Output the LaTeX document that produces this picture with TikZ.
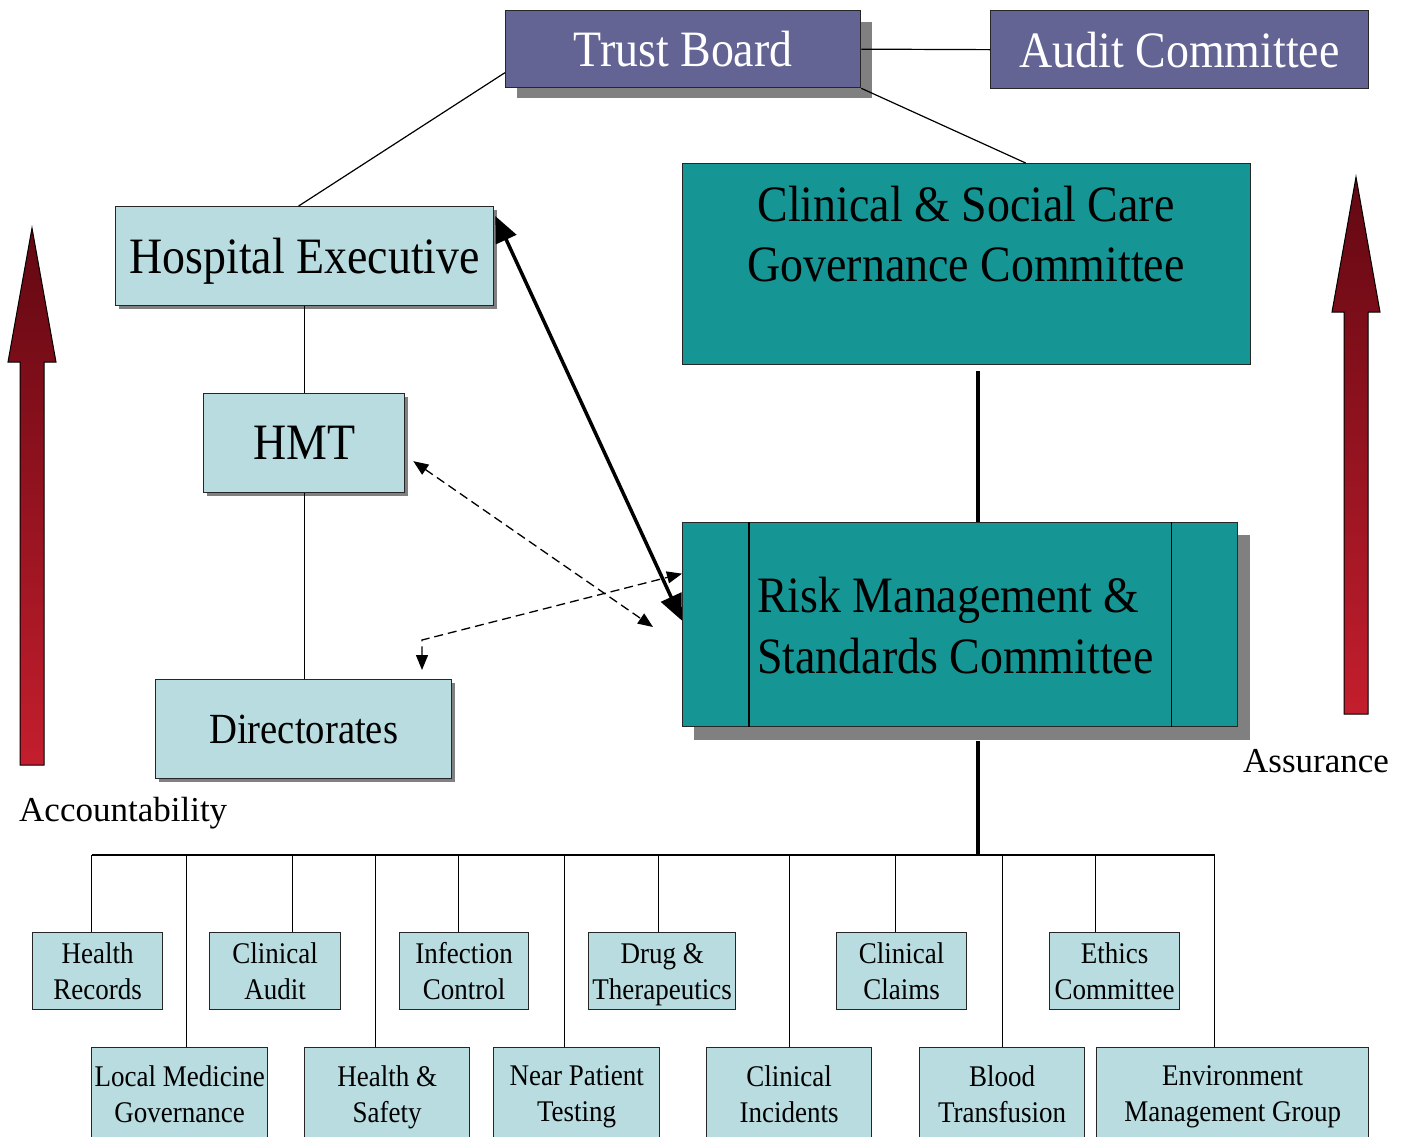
\documentclass[tikz,border=0pt]{standalone}
\usepackage{fontspec}
\setmainfont{Liberation Serif}[FakeStretch=0.9]
\newfontfamily\labelfont{Liberation Serif}
\usetikzlibrary{arrows.meta,calc}
\definecolor{boardblue}{RGB}{99,99,148}
\definecolor{paleblue}{RGB}{184,220,224}
\definecolor{tealfill}{RGB}{21,149,147}
\definecolor{shadowgray}{RGB}{128,128,128}
\definecolor{arrowdark}{RGB}{98,8,18}
\definecolor{arrowlight}{RGB}{196,30,45}
\begin{document}
\begin{tikzpicture}[x=1pt,y=-1pt,
 box/.style={draw=black!85, line width=1.3pt, inner sep=0pt, anchor=north west, align=center, text depth=0pt},
 board/.style={box, fill=boardblue, text=white, font=\fontsize{51}{60}\selectfont},
 pale/.style={box, fill=paleblue, font=\fontsize{51}{60}\selectfont},
 tealbox/.style={box, fill=tealfill},
 small/.style={box, fill=paleblue, font=\fontsize{30}{36}\selectfont},
 shadowfill/.style={fill=shadowgray, draw=none},
 link/.style={line width=1.2pt},
 spine/.style={line width=3.5pt},
 bigarrow/.style={line width=3.5pt, {Triangle[length=26pt,width=22pt]}-{Triangle[length=26pt,width=22pt]}},
 dasharrow/.style={line width=1.3pt, dash pattern=on 9pt off 5pt, {Triangle[length=15pt,width=12pt]}-{Triangle[length=15pt,width=12pt]}},
 blockarrow/.style={top color=arrowdark, bottom color=arrowlight, draw=black, line width=1pt},
 caption/.style={font=\labelfont\fontsize{35}{40}\selectfont, inner sep=0pt}
]
\clip (0,0) rectangle (1409,1136);
\fill[white] (0,0) rectangle (1409,1136);

% shadows
\fill[shadowfill] (517,22) rectangle (872,98);
\fill[shadowfill] (119,210) rectangle (497,309);
\fill[shadowfill] (207,397) rectangle (408,496);
\fill[shadowfill] (159,683) rectangle (455,782);
\fill[shadowfill] (694,535) rectangle (1250,740);

% main boxes
\node[board, minimum width=355pt, minimum height=77pt] (tb) at (505,10) {Trust Board};
\node[board, minimum width=378pt, minimum height=78pt] (ac) at (990,10) {Audit Committee};
\node[pale, minimum width=378pt, minimum height=99pt] (he) at (115,206) {Hospital Executive};
\node[pale, minimum width=201pt, minimum height=99pt] (hmt) at (203,393) {HMT};
\node[pale, font=\fontsize{43}{50}\selectfont, minimum width=296pt, minimum height=99pt] (dir) at (155,679) {Directorates};
\node[tealbox, minimum width=568pt, minimum height=201pt] (csc) at (682,163) {};
\node[font=\fontsize{51}{60}\selectfont, align=center, inner sep=0pt] (csct) at (966,234) {Clinical \& Social Care\\Governance Committee};
\node[tealbox, minimum width=555pt, minimum height=204pt] (rm) at (682,522) {};
\draw[link] ($(rm.north west)+(67,0)$) -- ($(rm.south west)+(67,0)$);
\draw[link] ($(rm.north east)+(-67,0)$) -- ($(rm.south east)+(-67,0)$);
\node[font=\fontsize{51}{61}\selectfont, align=left, anchor=west, inner sep=0pt] (rmt) at (757,626) {Risk Management \&\\Standards Committee};

% captions
\node[caption, anchor=base west] (acc) at (19,821) {Accountability};
\node[caption, anchor=base west] (asr) at (1243,772) {Assurance};

% block arrows
\shadedraw[blockarrow] (20,765) -- (44,765) -- (44,362) -- (56,362) -- (32,228) -- (8,362) -- (20,362) -- cycle;
\shadedraw[blockarrow] (1344,714) -- (1368,714) -- (1368,312) -- (1380,312) -- (1356,177) -- (1332,312) -- (1344,312) -- cycle;

% sub committees, top row
\node[small, minimum width=130pt, minimum height=77pt] (hr) at (32,932) {Health\\Records};
\node[small, minimum width=131pt, minimum height=77pt] (ca) at (209,932) {Clinical\\Audit};
\node[small, minimum width=129pt, minimum height=77pt] (ic) at (399,932) {Infection\\Control};
\node[small, minimum width=147pt, minimum height=77pt] (dt) at (588,932) {Drug \&\\Therapeutics};
\node[small, minimum width=130pt, minimum height=77pt] (cc) at (836,932) {Clinical\\Claims};
\node[small, minimum width=130pt, minimum height=77pt] (ec) at (1049,932) {Ethics\\Committee};
% bottom row
\node[small, minimum width=176pt, minimum height=92pt] (lmg) at (91,1047) {Local Medicine\\Governance};
\node[small, minimum width=165pt, minimum height=92pt] (hs) at (304,1047) {Health \&\\Safety};
\node[small, minimum width=166pt, minimum height=92pt] (npt) at (493,1047) {Near Patient\\Testing};
\node[small, minimum width=165pt, minimum height=92pt] (ci) at (706,1047) {Clinical\\Incidents};
\node[small, minimum width=165pt, minimum height=92pt] (bt) at (919,1047) {Blood\\Transfusion};
\node[small, minimum width=272pt, minimum height=92pt] (emg) at (1096,1047) {Environment\\Management Group};

% connectors
\coordinate (bus) at (978,855);
\draw[link] (tb.east) -- (ac.west);
\draw[link] ([yshift=-23.5pt]tb.west) -- ([xshift=-6pt]he.north);
\draw[link] (tb.south east) -- ($(csc.north)+(59,0)$);
\draw[link] (he.south -| hmt.north) -- (hmt.north);
\draw[link] (hmt.south) -- (dir.north -| hmt.south);
\draw[spine] ($(csc.south -| bus)+(0,6)$) -- (rm.north -| bus);
\draw[spine] ($(rm.south -| bus)+(0,14)$) -- (bus);
\draw[bigarrow] ([xshift=1pt,yshift=-10pt]he.north east) -- ([yshift=4pt]rm.west);
\coordinate (hmtend) at (653,627);
\draw[dasharrow] ([xshift=8pt,yshift=-18pt]hmt.east) -- (hmtend);
\coordinate (dirtip) at (422,670);
\coordinate (dirbend) at (422,640);
\draw[dasharrow] (dirtip) -- (dirbend) -- ([yshift=51pt]rm.west);

% bus and drops
\draw[link] ([xshift=-6pt,yshift=77pt]hr.north) -- ([xshift=-18pt,yshift=192pt]emg.north);
\draw[link] ([xshift=-6pt]hr.north) -- ++(0,-77);
\draw[link] ([xshift=17.5pt]ca.north) -- ++(0,-77);
\draw[link] ([xshift=-5.5pt]ic.north) -- ++(0,-77);
\draw[link] ([xshift=-3.5pt]dt.north) -- ++(0,-77);
\draw[link] ([xshift=-6pt]cc.north) -- ++(0,-77);
\draw[link] ([xshift=-19pt]ec.north) -- ++(0,-77);
\draw[link] ([xshift=7pt]lmg.north) -- ++(0,-192);
\draw[link] ([xshift=-11.5pt]hs.north) -- ++(0,-192);
\draw[link] ([xshift=-12pt]npt.north) -- ++(0,-192);
\draw[link] ([xshift=0.5pt]ci.north) -- ++(0,-192);
\draw[link] ([xshift=0.5pt]bt.north) -- ++(0,-192);
\draw[link] ([xshift=-18pt]emg.north) -- ++(0,-192);
\end{tikzpicture}
\end{document}
